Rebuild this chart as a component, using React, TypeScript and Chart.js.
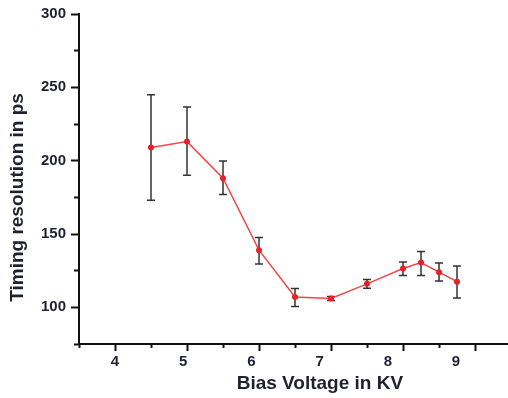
import React, { useEffect, useRef } from "react";
import { Chart, registerables } from "chart.js";

Chart.register(...registerables);

const voltage = [4.5, 5, 5.5, 6, 6.5, 7, 7.5, 8, 8.25, 8.5, 8.75];
const resolution = [209, 213, 188, 139, 107, 106, 116, 126.5, 130.5, 124, 117.5];
const errLow = [173, 190, 177, 129.5, 100.5, 104.7, 113, 121.7, 121.7, 118, 106.3];
const errHigh = [245, 236.6, 199.7, 147.6, 112.9, 107.4, 119, 130.9, 138, 130.2, 128.1];
const yTickLabels = [100, 150, 200, 250, 300];
const xTickLabels = [4, 5, 6, 7, 8, 9];

const FONT = "'Liberation Sans', Arial, sans-serif";
const TEXT = "#1e2230";

const errorBars = {
  id: "errorBars",
  beforeDatasetsDraw(chart: any) {
    const { ctx, scales } = chart;
    const x = scales.x;
    const y = scales.y;
    ctx.save();
    ctx.strokeStyle = "#333333";
    ctx.lineWidth = 1.5;
    voltage.forEach((v, i) => {
      const px = x.getPixelForValue(v);
      const yl = y.getPixelForValue(errLow[i]);
      const yh = y.getPixelForValue(errHigh[i]);
      ctx.beginPath();
      ctx.moveTo(px, yl);
      ctx.lineTo(px, yh);
      ctx.moveTo(px - 4, yl);
      ctx.lineTo(px + 4, yl);
      ctx.moveTo(px - 4, yh);
      ctx.lineTo(px + 4, yh);
      ctx.stroke();
    });
    ctx.restore();
  },
};

export default function App() {
  const ref = useRef<HTMLCanvasElement | null>(null);
  useEffect(() => {
    if (!ref.current) return;
    const chart = new Chart(ref.current, {
      type: "line",
      data: {
        datasets: [
          {
            data: voltage.map((v, i) => ({ x: v, y: resolution[i] })),
            xAxisID: "x",
            yAxisID: "y",
            borderColor: "#f04848",
            borderWidth: 1.5,
            pointRadius: 3,
            pointBackgroundColor: "#e82028",
            pointBorderWidth: 0,
            tension: 0,
          },
        ],
      },
      options: {
        responsive: false,
        animation: false,
        devicePixelRatio: 1,
        layout: { autoPadding: false, padding: { top: 13, left: 0, right: 0, bottom: 0 } },
        plugins: { legend: { display: false }, tooltip: { enabled: false } },
        scales: {
          x: {
            type: "linear",
            position: "bottom",
            min: 3.5,
            max: 9.458,
            afterFit: (s: any) => {
              s.height = 8;
            },
            ticks: { stepSize: 0.5, includeBounds: false, display: false },
            grid: {
              display: true,
              drawOnChartArea: false,
              drawTicks: true,
              tickLength: 7,
              tickWidth: 2,
              tickColor: "#111",
              tickBorderDash: (ctx: any) =>
                ctx.tick && Number.isInteger(ctx.tick.value) ? [] : [3, 30],
            },
            border: { display: true, color: "#111", width: 2 },
          },
          x2: {
            type: "linear",
            position: "bottom",
            min: 3.472,
            max: 9.762,
            afterFit: (s: any) => {
              s.height = 46;
            },
            ticks: {
              stepSize: 1,
              includeBounds: false,
              padding: 1,
              color: TEXT,
              font: { family: FONT, size: 15, weight: "bold" },
              callback: (v: any) => (xTickLabels.includes(Number(v)) ? String(v) : ""),
              maxRotation: 0,
              autoSkip: false,
            },
            grid: { display: false, drawTicks: false },
            border: { display: false },
            title: {
              display: true,
              text: "          Bias Voltage in KV",
              color: TEXT,
              font: { family: FONT, size: 19, weight: "bold" },
              padding: { top: 0, bottom: 3 },
            },
          },
          y: {
            type: "linear",
            position: "left",
            min: 75,
            max: 300,
            afterFit: (s: any) => {
              s.width = 79;
            },
            ticks: {
              stepSize: 25,
              padding: 5,
              color: TEXT,
              font: { family: FONT, size: 15, weight: "bold" },
              callback: (v: any) => (yTickLabels.includes(Number(v)) ? String(v) : ""),
            },
            grid: {
              display: true,
              drawOnChartArea: false,
              drawTicks: true,
              tickLength: 8,
              tickWidth: 2,
              tickColor: "#111",
              tickBorderDash: (ctx: any) =>
                ctx.tick && yTickLabels.includes(ctx.tick.value) ? [] : [0, 3, 5, 30],
            },
            border: { display: true, color: "#111", width: 2 },
            title: {
              display: true,
              text: "Timing resolution in ps       ",
              color: TEXT,
              font: { family: FONT, size: 19, weight: "bold" },
              padding: { top: 6, bottom: 0 },
            },
          },
        },
      },
      plugins: [errorBars],
    } as any);
    return () => chart.destroy();
  }, []);
  return (
    <div style={{ position: "fixed", left: 0, top: 0, width: 508, height: 398, background: "#fff" }}>
      <canvas ref={ref} width={508} height={398} style={{ width: 508, height: 398 }} />
    </div>
  );
}
